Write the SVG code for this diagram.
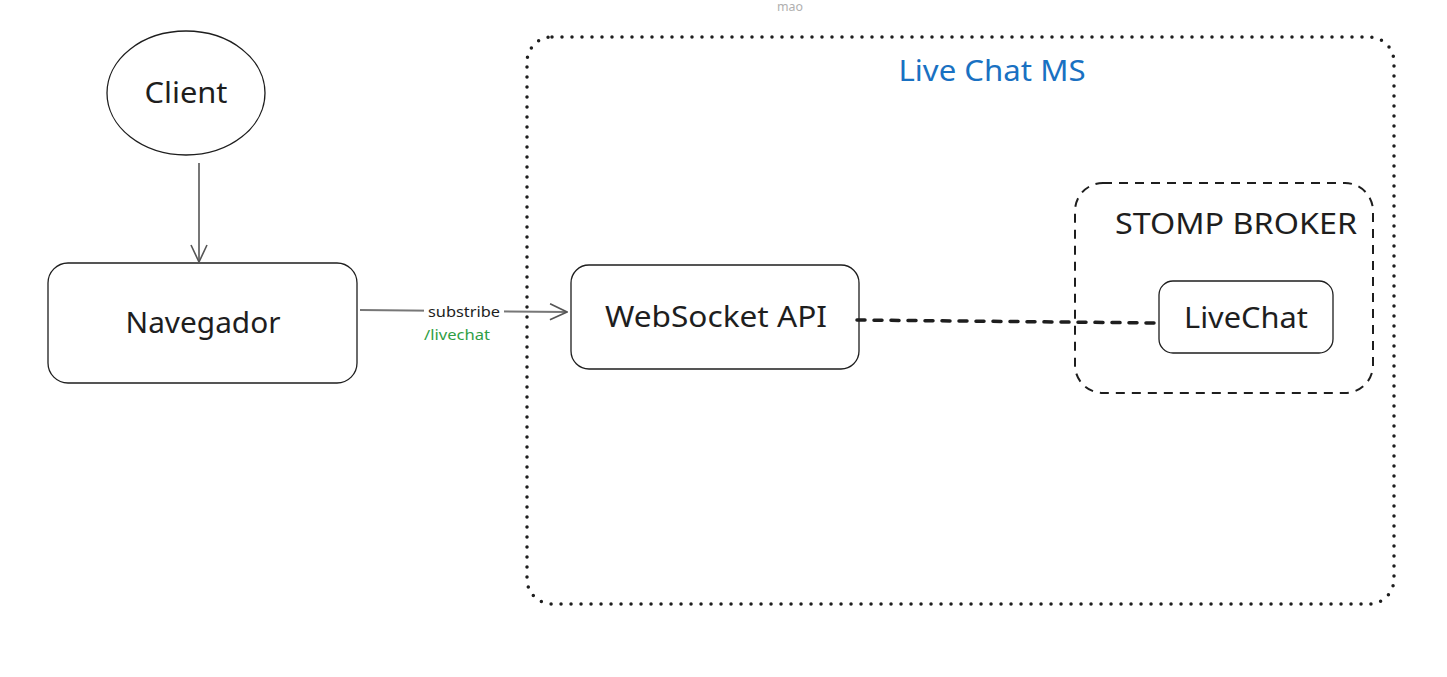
<svg xmlns="http://www.w3.org/2000/svg" width="1447" height="677" viewBox="0 0 1447 677">
<defs>
<style>
.t{font-family:"Noto Sans","Open Sans",sans-serif;fill:#1e1e1e;text-anchor:middle}
.box{fill:none;stroke:#1e1e1e;stroke-width:1.3}
.conn{fill:none;stroke:#777;stroke-width:2}
</style>
<marker id="arr" viewBox="0 0 20 20" refX="19" refY="10" markerWidth="20" markerHeight="20" markerUnits="userSpaceOnUse" orient="auto">
<path d="M2,2 L19,10 L2,18" fill="none" stroke="#555" stroke-width="1.6"/>
</marker>
</defs>
<rect width="1447" height="677" fill="#fff"/>
<text x="790" y="11" class="t" font-size="12" style="fill:#b0b0b0" textLength="26" lengthAdjust="spacingAndGlyphs">mao</text>
<g id="livechat-ms">
<rect x="527" y="37" width="867" height="567" rx="25" fill="none" stroke="#1e1e1e" stroke-width="3.5" stroke-linecap="round" stroke-dasharray="0 10"/>
<text x="992" y="81" class="t" font-size="29" style="fill:#1971c2" textLength="187" lengthAdjust="spacingAndGlyphs">Live Chat MS</text>
</g>
<g id="client">
<ellipse cx="186" cy="93" rx="79" ry="62" class="box"/>
<text x="186" y="103" class="t" font-size="29" textLength="83" lengthAdjust="spacingAndGlyphs">Client</text>
</g>
<g id="navegador">
<rect x="48" y="263" width="309" height="120" rx="20" class="box"/>
<text x="203" y="333" class="t" font-size="29" textLength="155" lengthAdjust="spacingAndGlyphs">Navegador</text>
</g>
<g id="websocket">
<rect x="571" y="265" width="288" height="104" rx="18" class="box"/>
<text x="716" y="327" class="t" font-size="29" textLength="222" lengthAdjust="spacingAndGlyphs">WebSocket API</text>
</g>
<g id="stomp">
<rect x="1075" y="183" width="298" height="210" rx="28" fill="none" stroke="#1e1e1e" stroke-width="2" stroke-dasharray="9 7"/>
<text x="1236" y="234" class="t" font-size="29" textLength="242" lengthAdjust="spacingAndGlyphs">STOMP BROKER</text>
</g>
<g id="livechat">
<rect x="1159" y="281" width="174" height="72" rx="14" class="box"/>
<text x="1246" y="328" class="t" font-size="29" textLength="124" lengthAdjust="spacingAndGlyphs">LiveChat</text>
</g>
<g id="connectors">
<path d="M199,163 L199,262" class="conn" marker-end="url(#arr)"/>
<path d="M360,310 L567,312" class="conn" stroke-width="2.5" marker-end="url(#arr)"/>
<rect x="424" y="301" width="80" height="22" fill="#fff"/>
<text x="464" y="317" class="t" font-size="15" textLength="72" lengthAdjust="spacingAndGlyphs">substribe</text>
<text x="457" y="340" class="t" font-size="15" style="fill:#2f9e44" textLength="66" lengthAdjust="spacingAndGlyphs">/livechat</text>
<path d="M857,320 L1158,323" fill="none" stroke="#1e1e1e" stroke-width="3.5" stroke-linecap="round" stroke-dasharray="8 9"/>
</g>
</svg>
